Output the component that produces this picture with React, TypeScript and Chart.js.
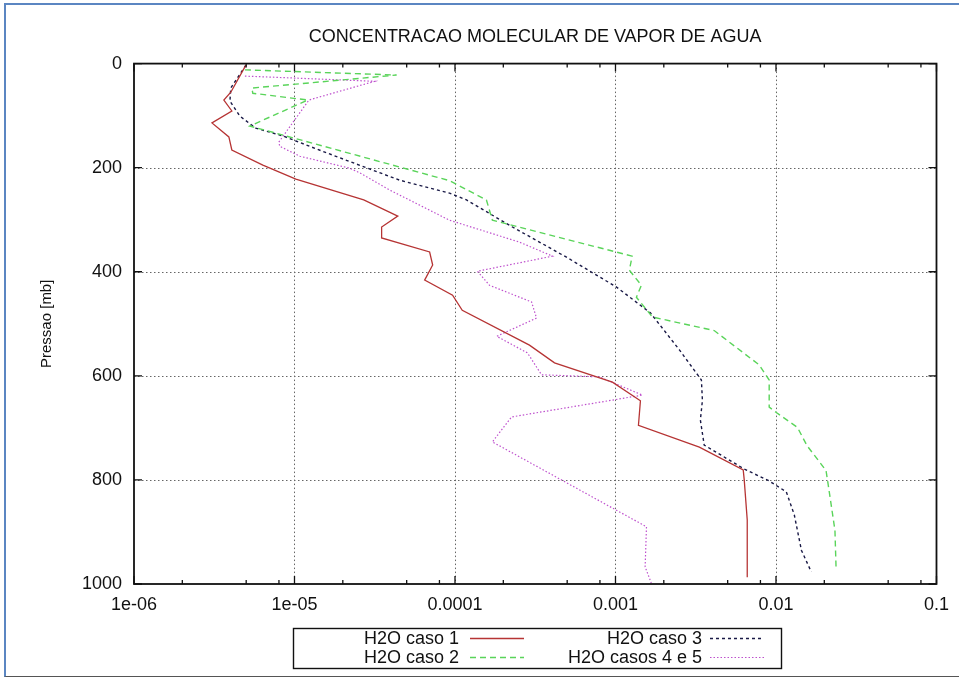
import React, { useEffect, useRef } from "react";
import { Chart, registerables } from "chart.js";

Chart.register(...registerables);

// ---------- data (pressure in mb, mixing ratio) ----------
const pressureCaso1 = [3, 55, 70, 91, 114, 141, 166, 195, 222, 262, 293, 314, 335, 362, 387, 416, 445, 474, 541, 575, 612, 648, 695, 737, 781, 800, 877, 987];
const valuesCaso1 = [4.98e-6, 4.01e-6, 3.63e-6, 4.07e-6, 3.06e-6, 3.9e-6, 4.07e-6, 6.35e-6, 1.02e-5, 2.7e-5, 4.4e-5, 3.49e-5, 3.49e-5, 6.95e-5, 7.26e-5, 6.47e-5, 9.66e-5, 1.11e-4, 2.91e-4, 4.17e-4, 9.57e-4, 1.43e-3, 1.39e-3, 3.33e-3, 6.25e-3, 6.34e-3, 6.62e-3, 6.62e-3];

const pressureCaso2 = [12, 22, 47, 57, 70, 120, 225, 262, 301, 370, 397, 426, 449, 487, 513, 579, 608, 660, 670, 699, 734, 782, 807, 897, 974];
const valuesCaso2 = [4.91e-6, 4.33e-5, 5.42e-6, 5.5e-6, 1.21e-5, 5.27e-6, 9.25e-5, 1.57e-4, 1.71e-4, 1.27e-3, 1.22e-3, 1.45e-3, 1.35e-3, 1.7e-3, 4.12e-3, 7.86e-3, 9.07e-3, 9.07e-3, 1.0e-2, 1.36e-2, 1.56e-2, 2.05e-2, 2.11e-2, 2.33e-2, 2.37e-2];

const pressureCaso3 = [3, 47, 72, 101, 124, 139, 168, 199, 224, 249, 262, 314, 372, 429, 479, 550, 608, 647, 685, 733, 779, 802, 823, 867, 935, 977];
const valuesCaso3 = [4.98e-6, 4.01e-6, 3.96e-6, 4.57e-6, 5.74e-6, 8.46e-6, 1.48e-5, 2.74e-5, 4.52e-5, 9.25e-5, 1.18e-4, 2.28e-4, 4.95e-4, 1.01e-3, 1.65e-3, 2.5e-3, 3.43e-3, 3.48e-3, 3.38e-3, 3.57e-3, 6.34e-3, 9.07e-3, 1.16e-2, 1.3e-2, 1.44e-2, 1.66e-2];

const pressureCaso45 = [24, 34, 70, 151, 159, 178, 201, 210, 243, 301, 343, 370, 399, 426, 458, 489, 524, 556, 598, 602, 637, 679, 727, 890, 967, 998];
const valuesCaso45 = [4.91e-6, 3.16e-5, 1.23e-5, 7.98e-6, 8.1e-6, 1.08e-5, 2.21e-5, 2.55e-5, 3.92e-5, 9.25e-5, 2.52e-4, 4.05e-4, 1.38e-4, 1.64e-4, 3.0e-4, 3.22e-4, 1.82e-4, 2.83e-4, 3.46e-4, 7.94e-4, 1.47e-3, 2.25e-4, 1.71e-4, 1.56e-3, 1.53e-3, 1.67e-3];

const seriesLabels = ["H2O caso 1", "H2O caso 2", "H2O caso 3", "H2O casos 4 e 5"];
const xTickValues = [1e-6, 1e-5, 1e-4, 1e-3, 1e-2, 1e-1];
const xTickLabels = ["1e-06", "1e-05", "0.0001", "0.001", "0.01", "0.1"];
const xMinorFactors = [2, 5, 8];
const yTickValues = [0, 200, 400, 600, 800, 1000];
const yTickLabels = ["0", "200", "400", "600", "800", "1000"];
const chartTitle = "CONCENTRACAO MOLECULAR DE VAPOR DE AGUA";
const yAxisTitle = "Pressao [mb]";

// ---------- styles ----------
const FONT = "'Liberation Sans', Arial, Helvetica, sans-serif";
const seriesStyles = [
  { color: "rgb(182,52,52)", dash: [] as number[], width: 1.3 },
  { color: "rgb(90,212,90)", dash: [6, 4], width: 1.4 },
  { color: "rgb(25,25,70)", dash: [3, 3], width: 1.4 },
  { color: "rgb(190,80,205)", dash: [1.5, 2], width: 1.2 },
];

const toPoints = (xs: number[], ps: number[]) => xs.map((v, i) => ({ x: v, y: ps[i] }));

const gnuplotPlugin = {
  id: "gnuplotDecor",
  beforeDatasetsDraw(chart: any) {
    const { ctx, chartArea: a, scales } = chart;
    const x = scales.x;
    const y = scales.y;
    ctx.save();
    ctx.strokeStyle = "#666";
    ctx.lineWidth = 1;
    ctx.setLineDash([1.5, 2.5]);
    xTickValues.forEach((v) => {
      const px = Math.round(x.getPixelForValue(v)) + 0.5;
      if (px > a.left + 2 && px < a.right - 2) {
        ctx.beginPath();
        ctx.moveTo(px, a.top);
        ctx.lineTo(px, a.bottom);
        ctx.stroke();
      }
    });
    yTickValues.forEach((v) => {
      const py = Math.round(y.getPixelForValue(v)) + 0.5;
      if (py > a.top + 2 && py < a.bottom - 2) {
        ctx.beginPath();
        ctx.moveTo(a.left, py);
        ctx.lineTo(a.right, py);
        ctx.stroke();
      }
    });
    ctx.restore();
  },
  afterDatasetsDraw(chart: any) {
    const { ctx, chartArea: a, scales } = chart;
    const x = scales.x;
    const y = scales.y;
    ctx.save();
    ctx.setLineDash([]);
    ctx.strokeStyle = "#111";
    ctx.lineWidth = 1.8;
    ctx.strokeRect(a.left, a.top, a.right - a.left, a.bottom - a.top);
    ctx.lineWidth = 1.3;
    const major = 8;
    const minor = 4;
    ctx.beginPath();
    xTickValues.forEach((v, i) => {
      const px = x.getPixelForValue(v);
      ctx.moveTo(px, a.bottom);
      ctx.lineTo(px, a.bottom - major);
      ctx.moveTo(px, a.top);
      ctx.lineTo(px, a.top + major);
      if (i < xTickValues.length - 1) {
        xMinorFactors.forEach((f) => {
          const mx = x.getPixelForValue(v * f);
          ctx.moveTo(mx, a.bottom);
          ctx.lineTo(mx, a.bottom - minor);
          ctx.moveTo(mx, a.top);
          ctx.lineTo(mx, a.top + minor);
        });
      }
    });
    yTickValues.forEach((v) => {
      const py = y.getPixelForValue(v);
      ctx.moveTo(a.left, py);
      ctx.lineTo(a.left + major, py);
      ctx.moveTo(a.right, py);
      ctx.lineTo(a.right - major, py);
    });
    ctx.stroke();

    // legend box (gnuplot style: text, then line sample)
    const box = { left: 293, top: 628, right: 781, bottom: 668 };
    ctx.lineWidth = 1.4;
    ctx.strokeStyle = "#111";
    ctx.strokeRect(box.left + 0.5, box.top + 0.5, box.right - box.left, box.bottom - box.top);
    ctx.font = `18px ${FONT}`;
    ctx.fillStyle = "#111";
    ctx.textAlign = "right";
    ctx.textBaseline = "middle";
    const rows = [638, 657];
    const cols = [
      { textRight: 459, sampleLeft: 470, sampleRight: 524 },
      { textRight: 702, sampleLeft: 710, sampleRight: 764 },
    ];
    [0, 1, 2, 3].forEach((si) => {
      const col = cols[Math.floor(si / 2)];
      const ry = rows[si % 2];
      ctx.fillText(seriesLabels[si], col.textRight, ry + 1);
      const st = seriesStyles[si];
      ctx.save();
      ctx.strokeStyle = st.color;
      ctx.lineWidth = st.width;
      ctx.setLineDash(st.dash);
      ctx.beginPath();
      ctx.moveTo(col.sampleLeft, ry + 0.5);
      ctx.lineTo(col.sampleRight, ry + 0.5);
      ctx.stroke();
      ctx.restore();
    });
    ctx.restore();
  },
};

export default function App() {
  const canvasRef = useRef<HTMLCanvasElement | null>(null);

  useEffect(() => {
    if (!canvasRef.current) return;
    const allX = [valuesCaso1, valuesCaso2, valuesCaso3, valuesCaso45];
    const allP = [pressureCaso1, pressureCaso2, pressureCaso3, pressureCaso45];
    const chart = new Chart(canvasRef.current, {
      type: "line",
      data: {
        datasets: seriesLabels.map((label, i) => ({
          label,
          data: toPoints(allX[i], allP[i]),
          borderColor: seriesStyles[i].color,
          backgroundColor: seriesStyles[i].color,
          borderWidth: seriesStyles[i].width,
          borderDash: seriesStyles[i].dash,
          pointRadius: 0,
          fill: false,
          tension: 0,
        })),
      },
      options: {
        responsive: false,
        animation: false,
        devicePixelRatio: 1,
        layout: { padding: { left: 0, right: 22, top: 0, bottom: 0 } },
        plugins: {
          legend: { display: false },
          tooltip: { enabled: false },
          title: {
            display: true,
            text: chartTitle,
            fullSize: false,
            color: "#111",
            font: { family: FONT, size: 18, weight: "normal" },
            padding: { top: 26, bottom: 16 },
          },
        },
        scales: {
          x: {
            type: "logarithmic",
            min: 1e-6,
            max: 0.1,
            afterBuildTicks: (scale: any) => {
              scale.ticks = xTickValues.map((v) => ({ value: v }));
            },
            afterFit: (scale: any) => {
              scale.height = 95;
            },
            ticks: {
              autoSkip: false,
              maxRotation: 0,
              padding: 10,
              color: "#111",
              font: { family: FONT, size: 18 },
              callback: (v: any) => {
                const idx = xTickValues.findIndex((t) => Math.abs(Math.log10(t) - Math.log10(Number(v))) < 1e-6);
                return idx >= 0 ? xTickLabels[idx] : "";
              },
            },
            grid: { display: false, drawTicks: false },
            border: { display: false },
          },
          y: {
            type: "linear",
            reverse: true,
            min: 0,
            max: 1000,
            afterBuildTicks: (scale: any) => {
              scale.ticks = yTickValues.map((v) => ({ value: v }));
            },
            afterFit: (scale: any) => {
              scale.width = 134;
            },
            ticks: {
              autoSkip: false,
              padding: 12,
              color: "#111",
              font: { family: FONT, size: 18 },
              callback: (v: any) => {
                const idx = yTickValues.indexOf(Number(v));
                return idx >= 0 ? yTickLabels[idx] : "";
              },
            },
            title: {
              display: true,
              text: yAxisTitle,
              color: "#111",
              font: { family: FONT, size: 15 },
              padding: { top: 38, bottom: 0 },
            },
            grid: { display: false, drawTicks: false },
            border: { display: false },
          },
        },
      },
      plugins: [gnuplotPlugin],
    } as any);
    return () => chart.destroy();
  }, []);

  return (
    <div style={{ position: "fixed", left: 0, top: 0, width: 959, height: 679, background: "#fff", overflow: "hidden" }}>
      <canvas ref={canvasRef} width={959} height={679} style={{ width: 959, height: 679, display: "block" }} />
      <div
        style={{
          position: "absolute",
          left: 4,
          top: 3,
          width: 960,
          height: 671,
          borderLeft: "2px solid #5b86c2",
          borderTop: "2px solid #5b86c2",
          borderBottom: "1.5px solid #555",
          pointerEvents: "none",
        }}
      />
    </div>
  );
}
